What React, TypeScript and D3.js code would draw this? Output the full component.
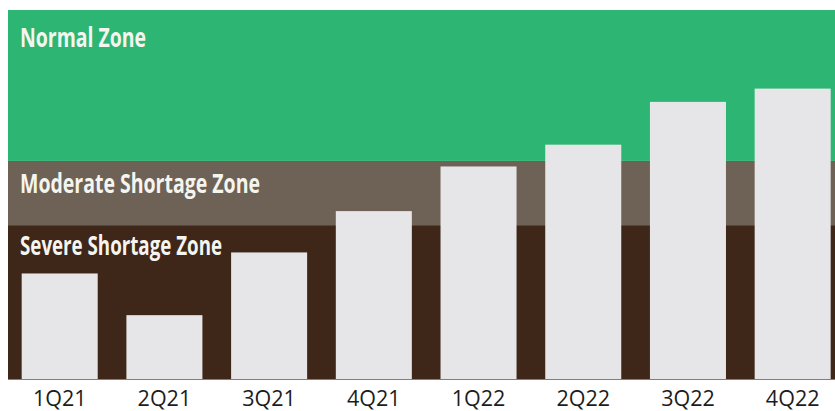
import React from "react";
import * as d3 from "d3";

const categories = ["1Q21", "2Q21", "3Q21", "4Q21", "1Q22", "2Q22", "3Q22", "4Q22"];
const values = [28.6, 17.3, 34.3, 45.5, 57.6, 63.5, 75.1, 78.7];
const zoneNames = ["Severe Shortage Zone", "Moderate Shortage Zone", "Normal Zone"];
const zoneLower = [0, 41.7, 59.1];
const zoneUpper = [41.7, 59.1, 100];
const zoneColors = ["#3e2619", "#6e6256", "#2db673"];

const W = 835;
const H = 411;
const left = 8;
const right = 835;
const top = 10;
const bottom = 379;
const labelBaselines = [255, 193, 47];
const labelWidths = [202, 240, 126];

export default function App() {
  const x = d3
    .scaleBand<string>()
    .domain(categories)
    .range([left, right])
    .paddingInner(0.274)
    .paddingOuter(0.086)
    .align(0.76);
  const y = d3.scaleLinear().domain([0, 100]).range([bottom, top]);

  return (
    <svg
      width={W}
      height={H}
      style={{ position: "absolute", left: 0, top: 0, background: "#fff" }}
    >
      {zoneNames.map((z, i) => (
        <rect
          key={z}
          x={left}
          y={y(zoneUpper[i])}
          width={right - left}
          height={y(zoneLower[i]) - y(zoneUpper[i])}
          fill={zoneColors[i]}
        />
      ))}
      {zoneNames.map((z, i) => (
        <text
          key={"t" + z}
          x={20}
          y={labelBaselines[i]}
          fill="#f5f5ef"
          fontFamily="'Open Sans', sans-serif"
          fontWeight={700}
          fontSize={26}
          textLength={labelWidths[i]}
          lengthAdjust="spacingAndGlyphs"
        >
          {z}
        </text>
      ))}
      {categories.map((c, i) => (
        <rect
          key={c}
          x={x(c)}
          y={y(values[i])}
          width={x.bandwidth()}
          height={y(0) - y(values[i])}
          fill="#e6e6e8"
        />
      ))}
      <line x1={left} x2={right} y1={bottom + 0.5} y2={bottom + 0.5} stroke="#8a7d70" strokeWidth={1} />
      {categories.map((c) => (
        <text
          key={"l" + c}
          x={(x(c) as number) + x.bandwidth() / 2}
          y={406}
          textAnchor="middle"
          fill="#1c1c1c"
          fontFamily="'Open Sans', sans-serif"
          fontSize={21.5}
        >
          {c}
        </text>
      ))}
    </svg>
  );
}
